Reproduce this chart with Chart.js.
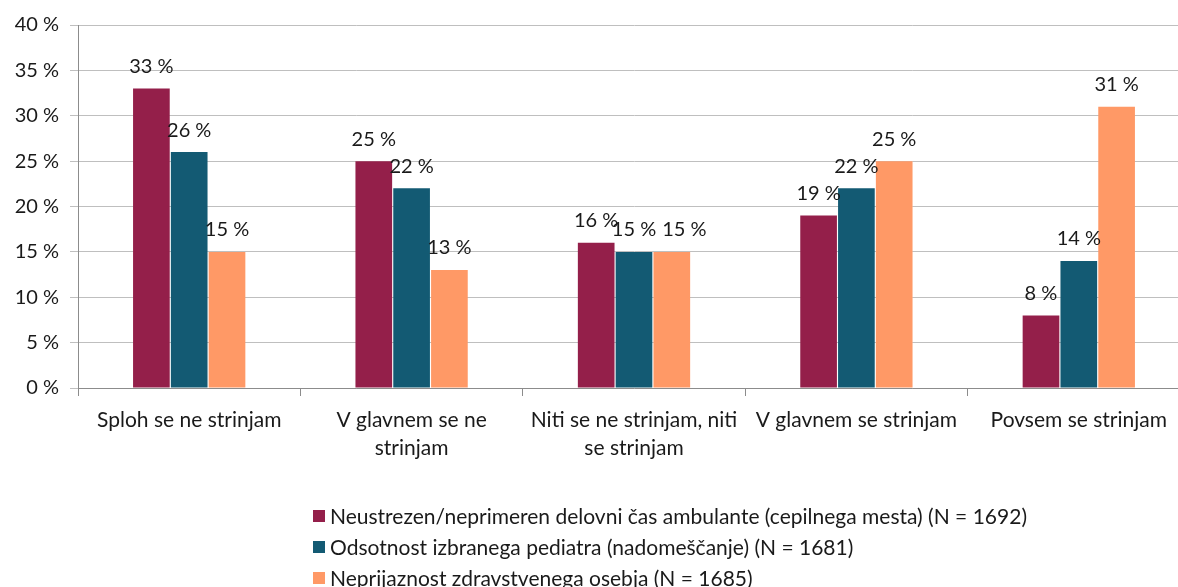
<!DOCTYPE html>
<html>
<head>
<meta charset="utf-8">
<script src="https://cdn.jsdelivr.net/npm/chart.js@4/dist/chart.umd.min.js"></script>
<style>
  html, body { margin: 0; padding: 0; background: #fff; overflow: hidden; width: 1178px; height: 587px; }
  #wrap { position: relative; width: 1190px; height: 587px; }
  #legend { position: absolute; left: 313px; top: 500px; font-family: Lato, "Open Sans", sans-serif; font-size: 21px; color: #1a1a1a; }
  .item { display: flex; align-items: center; height: 31px; white-space: nowrap; }
  .box { width: 12px; height: 12px; margin-right: 5px; }
</style>
</head>
<body>
<div id="wrap">
  <canvas id="c" width="1190" height="587"></canvas>
  <div id="legend"></div>
</div>
<script>
const categories = [
  "Sploh se ne strinjam",
  ["V glavnem se ne", "strinjam"],
  ["Niti se ne strinjam, niti", "se strinjam"],
  "V glavnem se strinjam",
  "Povsem se strinjam"
];
const seriesNames = [
  "Neustrezen/neprimeren delovni čas ambulante (cepilnega mesta) (N = 1692)",
  "Odsotnost izbranega pediatra (nadomeščanje) (N = 1681)",
  "Neprijaznost zdravstvenega osebja (N = 1685)"
];
const seriesColors = ["#941F4A", "#135A73", "#FF9966"];
const delovniCas = [33, 25, 16, 19, 8];
const odsotnost = [26, 22, 15, 22, 14];
const neprijaznost = [15, 13, 15, 25, 31];
const yTicks = [0, 5, 10, 15, 20, 25, 30, 35, 40];

const FONT = "Lato, 'Open Sans', sans-serif";

// Draws value labels above bars; if a label would collide with the previous
// label of the same category at the same height, it is nudged to the right.
const labelPlugin = {
  id: 'barLabels',
  afterDatasetsDraw(chart) {
    const ctx = chart.ctx;
    ctx.save();
    ctx.font = "20px " + FONT;
    ctx.fillStyle = "#1a1a1a";
    ctx.textAlign = "center";
    ctx.textBaseline = "bottom";
    const n = chart.data.labels.length;
    for (let j = 0; j < n; j++) {
      let prev = null;
      chart.data.datasets.forEach((ds, i) => {
        const bar = chart.getDatasetMeta(i).data[j];
        const txt = ds.data[j] + " %";
        const w = ctx.measureText(txt).width;
        let x = bar.x;
        const y = bar.y - 12;
        if (prev && Math.abs(prev.y - y) < 4 && x - w / 2 < prev.right + 6) {
          x = prev.right + 6 + w / 2;
        }
        ctx.fillText(txt, x, y);
        prev = { y, right: x + w / 2 };
      });
    }
    ctx.restore();
  }
};

const datasets = [delovniCas, odsotnost, neprijaznost].map((d, i) => ({
  label: seriesNames[i],
  data: d,
  backgroundColor: seriesColors[i],
  categoryPercentage: 0.51,
  barPercentage: 0.97
}));

const chart = new Chart(document.getElementById('c'), {
  type: 'bar',
  data: { labels: categories, datasets },
  options: {
    responsive: false,
    animation: false,
    layout: { padding: { top: 25, left: 0, right: 0, bottom: 0 } },
    plugins: { legend: { display: false }, tooltip: { enabled: false } },
    scales: {
      x: {
        afterFit(s) { s.height = 199; },
        grid: { display: true, drawOnChartArea: false, drawTicks: true, tickLength: 8, color: '#8C8C8C', offset: true },
        border: { color: '#8C8C8C', width: 1 },
        ticks: { font: { family: FONT, size: 21, lineHeight: 1.35 }, color: '#1a1a1a', padding: 10 }
      },
      y: {
        min: 0, max: 40,
        afterFit(s) { s.width = 78; },
        afterBuildTicks(s) { s.ticks = yTicks.map(v => ({ value: v })); },
        grid: { color: '#BFBFBF', tickLength: 8, drawTicks: true },
        border: { color: '#8C8C8C', width: 1 },
        ticks: { font: { family: FONT, size: 20 }, color: '#1a1a1a', padding: 11, callback: v => v + " %" }
      }
    }
  },
  plugins: [labelPlugin]
});

const leg = document.getElementById('legend');
chart.data.datasets.forEach(ds => {
  const it = document.createElement('div');
  it.className = 'item';
  const b = document.createElement('span');
  b.className = 'box';
  b.style.background = ds.backgroundColor;
  const t = document.createElement('span');
  t.textContent = ds.label;
  it.appendChild(b); it.appendChild(t);
  leg.appendChild(it);
});
</script>
</body>
</html>
